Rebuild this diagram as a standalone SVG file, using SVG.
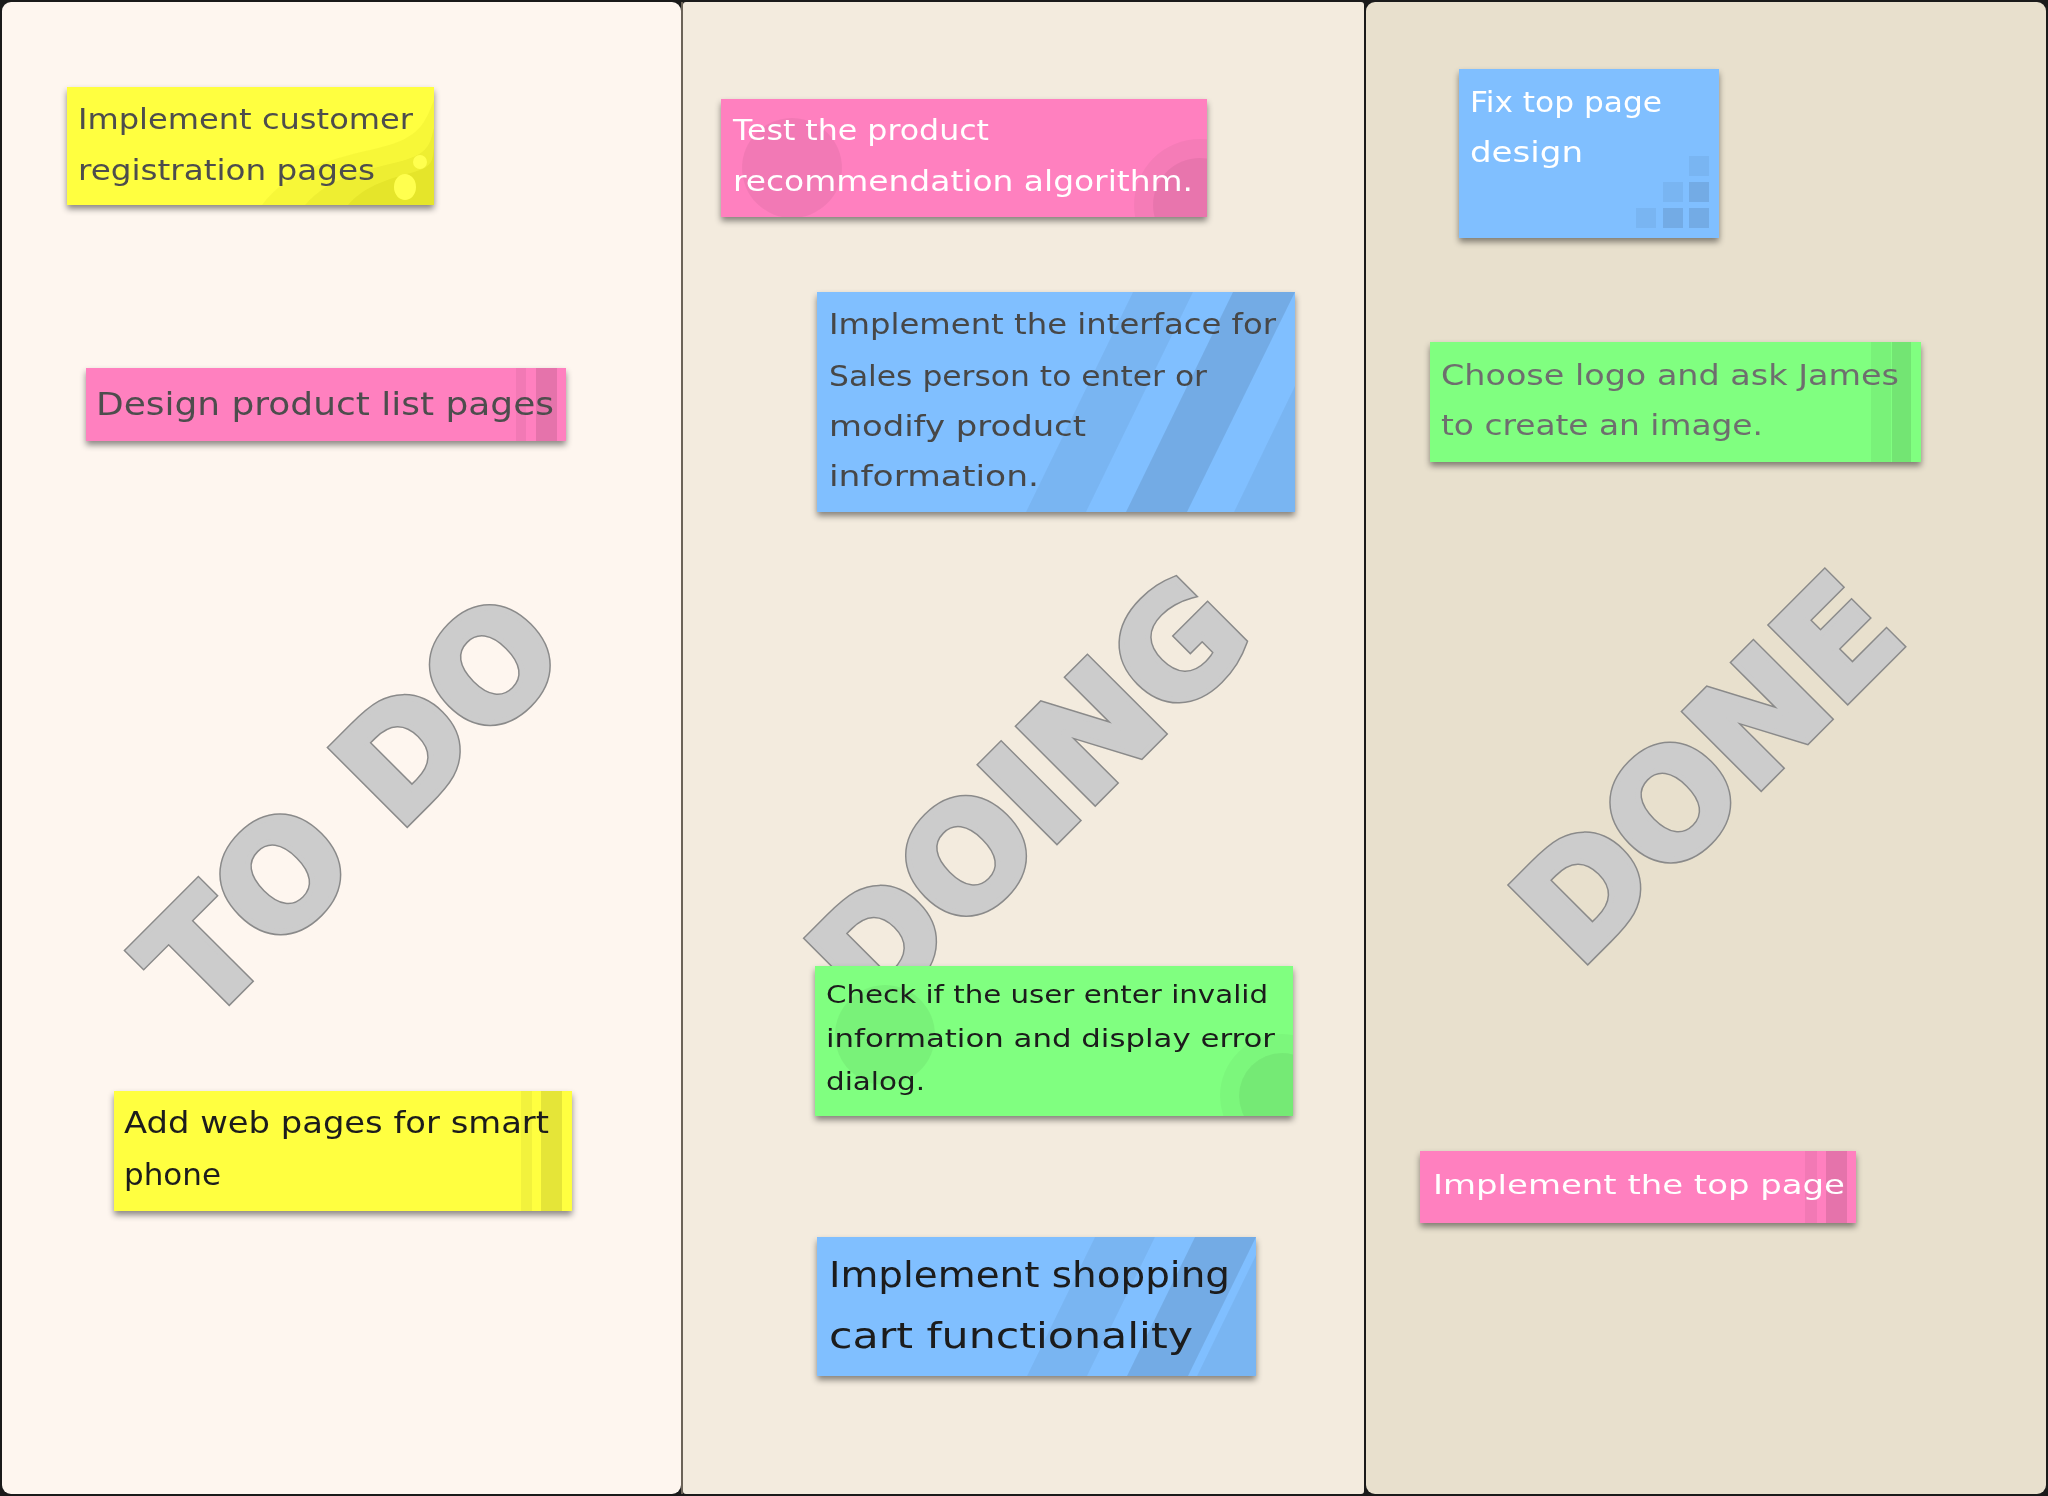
<svg xmlns="http://www.w3.org/2000/svg" width="2048" height="1496" viewBox="0 0 2048 1496">
<defs>
  <filter id="sh" x="-5%" y="-10%" width="110%" height="130%">
    <feDropShadow dx="0" dy="4" stdDeviation="3" flood-color="#000" flood-opacity="0.45"/>
  </filter>
  <clipPath id="c1"><rect x="67" y="87" width="367" height="118"/></clipPath>
  <clipPath id="c4"><rect x="721" y="99" width="486" height="118"/></clipPath>
  <clipPath id="c6"><rect x="815" y="966" width="478" height="150"/></clipPath>
  <style>
    .col1 { fill: #fef6ef; }
    .col2 { fill: #f3ebde; }
    .col3 { fill: #e8e0cd; }
    .wm { font-family: "DejaVu Sans", "Liberation Sans", sans-serif; font-weight: bold; font-size: 146px; text-anchor: middle; stroke-linejoin: miter; stroke-miterlimit: 3; }
    .wm-out { fill: #8a8a8a; stroke: #8a8a8a; stroke-width: 8; }
    .wm-in { fill: #cccccc; stroke: #cccccc; stroke-width: 5; }
    .note { filter: url(#sh); }
    .t { font-family: "DejaVu Sans", "Liberation Sans", sans-serif; }
    .yellow { fill: #ffff40; }
    .pink { fill: #ff80bf; }
    .blue { fill: #80bfff; }
    .green { fill: #80ff80; }
    .dk1 { fill: #000; fill-opacity: 0.05; }
    .dk2 { fill: #000; fill-opacity: 0.1; }
  </style>
</defs>

<rect x="0" y="0" width="2048" height="1496" fill="#1a1a1a"/>
<g id="columns">
  <rect id="col-todo" class="col1" x="2" y="2" width="679" height="1492" rx="9"/>
  <rect id="col-doing" class="col2" x="683" y="2" width="681" height="1492" rx="3"/>
  <rect id="col-done" class="col3" x="1366" y="2" width="680" height="1492" rx="9"/>
  <line x1="682" y1="2" x2="682" y2="1494" stroke="#6b6358" stroke-width="2"/>
</g>

<g id="watermarks">
  <g transform="rotate(-45 350 805)">
    <text class="wm wm-out" x="350" y="858">TO DO</text>
    <text class="wm wm-in" x="350" y="858">TO DO</text>
  </g>
  <g transform="rotate(-45 1028 794)">
    <text class="wm wm-out" x="1028" y="847">DOING</text>
    <text class="wm wm-in" x="1028" y="847">DOING</text>
  </g>
  <g transform="rotate(-45 1706 767)">
    <text class="wm wm-out" x="1706" y="820">DONE</text>
    <text class="wm wm-in" x="1706" y="820">DONE</text>
  </g>
</g>

<g id="connectors"/>

<g id="note-customer-registration" class="note">
  <rect class="yellow" x="67" y="87" width="367" height="118"/>
  <g clip-path="url(#c1)">
    <path d="M262,205 C290,168 335,158 378,148 S425,122 434,100 L434,205 Z" fill="#b0b000" fill-opacity="0.1"/>
    <path d="M305,205 C328,178 365,170 398,162 S430,142 434,128 L434,205 Z" fill="#b0b000" fill-opacity="0.12"/>
    <path d="M348,205 C366,184 393,178 414,172 S432,158 434,148 L434,205 Z" fill="#b0b000" fill-opacity="0.14"/>
    <circle cx="420" cy="162" r="7" fill="#ffff50"/>
    <ellipse cx="405" cy="187" rx="11" ry="13" fill="#ffff50"/>
  </g>
  <text class="t" font-size="29" fill="#4d4d4d"><tspan x="78" y="129" textLength="335" lengthAdjust="spacingAndGlyphs">Implement customer</tspan><tspan x="78" y="180" textLength="297" lengthAdjust="spacingAndGlyphs">registration pages</tspan></text>
</g>

<g id="note-product-list" class="note">
  <rect class="pink" x="86" y="368" width="480" height="73"/>
  <rect class="dk1" x="516" y="368" width="10" height="73"/>
  <rect class="dk2" x="536" y="368" width="21" height="73"/>
  <text class="t" font-size="32" fill="#4d4d4d" x="96" y="415" textLength="458" lengthAdjust="spacingAndGlyphs">Design product list pages</text>
</g>

<g id="note-smart-phone" class="note">
  <rect class="yellow" x="114" y="1091" width="458" height="120"/>
  <rect class="dk1" x="521" y="1091" width="11" height="120"/>
  <rect class="dk2" x="541" y="1091" width="21" height="120"/>
  <text class="t" font-size="31" fill="#1e1e1e"><tspan x="124" y="1133" textLength="425" lengthAdjust="spacingAndGlyphs">Add web pages for smart</tspan><tspan x="124" y="1185" textLength="97" lengthAdjust="spacingAndGlyphs">phone</tspan></text>
</g>

<g id="note-recommendation" class="note">
  <rect class="pink" x="721" y="99" width="486" height="118"/>
  <g clip-path="url(#c4)">
    <circle cx="792" cy="168" r="50" class="dk1"/>
    <circle cx="1200" cy="205" r="66" fill="#000" fill-opacity="0.04"/>
    <circle cx="1200" cy="205" r="47" fill="#000" fill-opacity="0.05"/>
  </g>
  <text class="t" font-size="28" fill="#ffffff"><tspan x="733" y="140" textLength="256" lengthAdjust="spacingAndGlyphs">Test the product</tspan><tspan x="733" y="191" textLength="460" lengthAdjust="spacingAndGlyphs">recommendation algorithm.</tspan></text>
</g>

<g id="note-sales-interface" class="note">
  <rect class="blue" x="817" y="292" width="478" height="220"/>
  <polygon class="dk1" points="1026,512 1133,292 1193,292 1086,512"/>
  <polygon class="dk2" points="1126,512 1233,292 1295,292 1187,512"/>
  <polygon class="dk1" points="1234,512 1295,386 1295,512"/>
  <text class="t" font-size="29" fill="#474747"><tspan x="829" y="334" textLength="447" lengthAdjust="spacingAndGlyphs">Implement the interface for</tspan><tspan x="829" y="386" textLength="378" lengthAdjust="spacingAndGlyphs">Sales person to enter or</tspan><tspan x="829" y="436" textLength="257" lengthAdjust="spacingAndGlyphs">modify product</tspan><tspan x="829" y="486" textLength="210" lengthAdjust="spacingAndGlyphs">information.</tspan></text>
</g>

<g id="note-invalid-info" class="note">
  <rect class="green" x="815" y="966" width="478" height="150"/>
  <g clip-path="url(#c6)">
    <circle cx="885" cy="1035" r="50" class="dk1"/>
    <circle cx="1282" cy="1096" r="62" fill="#000" fill-opacity="0.03"/>
    <circle cx="1282" cy="1096" r="43" fill="#000" fill-opacity="0.05"/>
  </g>
  <text class="t" font-size="25" fill="#1a1a1a"><tspan x="826" y="1003" textLength="442" lengthAdjust="spacingAndGlyphs">Check if the user enter invalid</tspan><tspan x="826" y="1047" textLength="449" lengthAdjust="spacingAndGlyphs">information and display error</tspan><tspan x="826" y="1090" textLength="99" lengthAdjust="spacingAndGlyphs">dialog.</tspan></text>
</g>

<g id="note-shopping-cart" class="note">
  <rect class="blue" x="817" y="1237" width="439" height="139"/>
  <polygon class="dk1" points="1027,1376 1095,1237 1155,1237 1087,1376"/>
  <polygon class="dk2" points="1127,1376 1195,1237 1256,1237 1188,1376"/>
  <polygon class="dk1" points="1197,1376 1256,1255 1256,1376"/>
  <text class="t" font-size="35" fill="#1a1a1a"><tspan x="829" y="1287" textLength="401" lengthAdjust="spacingAndGlyphs">Implement shopping</tspan><tspan x="829" y="1348" textLength="364" lengthAdjust="spacingAndGlyphs">cart functionality</tspan></text>
</g>

<g id="note-fix-top-page" class="note">
  <rect class="blue" x="1459" y="69" width="260" height="169"/>
  <rect class="dk1" x="1689" y="156" width="20" height="20"/>
  <rect class="dk1" x="1663" y="182" width="20" height="20"/>
  <rect class="dk2" x="1689" y="182" width="20" height="20"/>
  <rect class="dk1" x="1636" y="208" width="20" height="20"/>
  <rect class="dk2" x="1663" y="208" width="20" height="20"/>
  <rect class="dk2" x="1689" y="208" width="20" height="20"/>
  <text class="t" font-size="29" fill="#ffffff"><tspan x="1470" y="112" textLength="192" lengthAdjust="spacingAndGlyphs">Fix top page</tspan><tspan x="1470" y="162" textLength="113" lengthAdjust="spacingAndGlyphs">design</tspan></text>
</g>

<g id="note-logo" class="note">
  <rect class="green" x="1430" y="342" width="491" height="120"/>
  <rect class="dk1" x="1871" y="342" width="20" height="120"/>
  <rect class="dk2" x="1892" y="342" width="19" height="120"/>
  <text class="t" font-size="29" fill="#6e6e6e"><tspan x="1441" y="385" textLength="458" lengthAdjust="spacingAndGlyphs">Choose logo and ask James</tspan><tspan x="1441" y="435" textLength="322" lengthAdjust="spacingAndGlyphs">to create an image.</tspan></text>
</g>

<g id="note-top-page" class="note">
  <rect class="pink" x="1420" y="1151" width="436" height="72"/>
  <rect class="dk1" x="1805" y="1151" width="12" height="72"/>
  <rect class="dk2" x="1826" y="1151" width="21" height="72"/>
  <text class="t" font-size="27" fill="#ffffff" x="1433" y="1194" textLength="412" lengthAdjust="spacingAndGlyphs">Implement the top page</text>
</g>
</svg>
